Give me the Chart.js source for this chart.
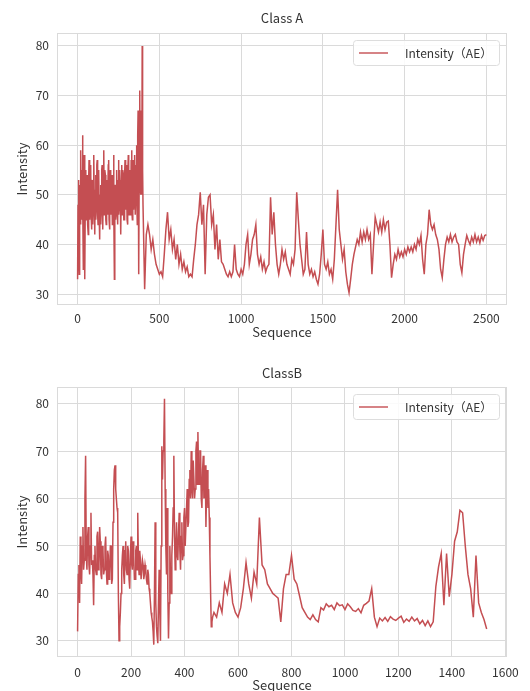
<!DOCTYPE html>
<html><head><meta charset="utf-8">
<script src="https://cdn.jsdelivr.net/npm/chart.js@4.4.0/dist/chart.umd.min.js"></script>
<style>
html,body{margin:0;padding:0;background:#fff;overflow:hidden;width:530px;height:691px;}
#wrapA{position:absolute;left:0;top:0;width:530px;height:345px;}
#wrapB{position:absolute;left:0;top:345px;width:530px;height:350px;}
</style></head><body>
<div id="wrapA"><canvas id="cA"></canvas></div>
<div id="wrapB"><canvas id="cB"></canvas></div>
<script>
// ---------------- DATA ----------------
const seriesLabel = 'Intensity（AE）';
const titleA = 'Class A';
const titleB = 'ClassB';
const xTitle = 'Sequence';
const yTitle = 'Intensity';

// Class A: sequence 0..400 every 2.5
const classA_seqStart1 = 0, classA_seqStep1 = 2.5;
const classA_values1 = [
 33,48,53,40,34,52,50,44,59,47,
 45,55,62,48,35,52,58,46,33,51,
 55,45,46,54,52,44,42,53,57,48,
 45,55,56,46,43,52,53,44,47,55,
 58,47,42,51,54,45,48,56,57,46,
 44,53,55,45,41,50,52,44,47,55,
 56,47,43,52,59,46,46,55,54,45,
 44,53,52,46,48,56,57,45,43,52,
 55,46,47,54,53,44,45,54,58,47,
 33,50,52,45,46,55,55,47,44,53,
 57,46,48,55,53,45,42,52,56,46,
 47,55,54,45,45,54,57,47,49,56,
 52,45,44,53,58,47,46,54,55,46,
 48,57,59,47,45,54,57,47,50,57,
 58,46,46,56,60,50,44,62,67,48,
 34,60,71,52,50,67,66,50,80,55,
 48];
// Class A: sequence 410..2500 every 10
const classA_seqStart2 = 410, classA_seqStep2 = 10;
const classA_values2 = [
 31,42,44,42,39,41,38,36,35,34,
 34.5,33.5,38,43,46.5,41,43,39,41,37,
 40,36,38,35,36.5,34.5,35.5,33.5,34,33.5,
 37,40,44,46,50.5,44,48,34,46,49.5,
 50,44,46,39,44,37,41,36.5,36,35,
 34,33.5,34.5,33.5,34.5,40,35,34,33.5,35,
 34,36,40,42,36,38,41,42,44,38,
 36,37.5,35,36.5,34.5,35.5,36,49.5,42,46.5,
 40,36,34,36,39,37,38.5,36,35,34,
 37,36,39,50.5,45,40,37,34,35,42.5,
 36,34,35,33.5,34.5,33,32,34,38,43,
 36,35,36.5,34,35,33,37,44,51,43,
 40,37,39,34.5,32,30.3,33,36,38,39.5,
 41,40,42.5,40.5,42.5,41,43,41,42,34,
 40,45.5,44,42.5,44.5,42.5,45,43,44.5,44.7,
 40,33.3,36,38,37,39,37.5,38.5,37.5,39,
 38,39.5,38.5,39.5,38.5,40,39,41,40,41.8,
 37,34,40,42,47,44,43,44,42,41,
 39,35,33.3,37,40,41.5,40.5,42,40.5,41.5,
 42,40.5,40,36,34.3,38,40,41.8,40.8,40,
 41.5,40.5,42,40.5,41.5,40.3,41.8,40.8,41.8,42];

// Class B: sequence 0..505 every 2.5
const classB_seqStart1 = 0, classB_seqStep1 = 2.5;
const classB_values1 = [
 32,44,46,38,52,45,42,50,54,45,
 47,60,69,48,45,52,54,46,44,50,
 57,46,47,44,37.5,48,50,45,44,52,
 53,45,46,54,51,44,43,50,49,44,
 45,50,52,45,42,49,48,43,44,50,
 50,42,43,55,62,66,67,62,60,58,
 57,40,30,33,36,40,45,48,50,44,
 42,49,51,45,44,50,49,43,41,48,
 52,46,45,51,48,43,43,49,50,45,
 57,47,44,49,47,43,43,47,46,43,
 44,46,45,43,42,45,44,41,40,38,
 36,35,34,32,29.2,40,55,38,33,31,
 29.5,38,45,36,30,50,71,64,70,72,
 81,62,50,44,58,40,30.5,38,50,44,
 40,48,52,58,69,52,45,50,55,48,
 47,53,57,49,45,52,55,47,48,56,
 58,50,50,58,62,54,55,64,66,60,
 70,62,60,68,68,60,62,70,72,63,
 74,65,63,70,70,60,58,66,69,60,
 61,67,54,62,66,58,62,56,48,40,
 33,34,35];
// Class B: sequence 510..1530 every 10
const classB_seqStart2 = 510, classB_seqStep2 = 10;
const classB_values2 = [
 36,35,38,36,42,40,44,38,36,35,
 37,41,46.5,42,39,44.5,42,56,46,45,
 42,41,40,39.5,39,34,41,44,44,48,
 43,42,39.5,37,36,35,34.5,35.5,34.5,34,
 37,36.5,37.8,37.2,37.5,36.6,38,37.4,37.6,36.6,
 37.8,37.2,36.4,36.2,36.8,35.9,37.5,37.9,38.4,41,
 35,33,34.8,34.2,34.9,34.1,35.1,34.6,34.3,34.8,
 35.2,33.9,34.6,34.1,35,34.2,34.7,33.6,34.3,33.2,
 34.2,33,34,41.5,45.6,48.4,37.5,48.4,39.3,44,
 51,53,57.5,57,50,44,41,35,48,38,
 36,34.5,32.5];

const xTicksA = [0, 500, 1000, 1500, 2000, 2500];
const xTicksB = [0, 200, 400, 600, 800, 1000, 1200, 1400, 1600];
const yTicksA = [30, 40, 50, 60, 70, 80];
const yTicksB = [30, 40, 50, 60, 70, 80];

// ---------------- BUILD ----------------
function toPoints(start, step, vals) {
  return vals.map((v, i) => ({x: start + i * step, y: v}));
}
const pointsA = toPoints(classA_seqStart1, classA_seqStep1, classA_values1)
  .concat(toPoints(classA_seqStart2, classA_seqStep2, classA_values2));
const pointsB = toPoints(classB_seqStart1, classB_seqStep1, classB_values1)
  .concat(toPoints(classB_seqStart2, classB_seqStep2, classB_values2));

const FONT = '"Noto Sans CJK SC", "Open Sans", sans-serif';
const TEXT = '#333333';
const GRID = '#dadada';
const LINE = '#c44e52';

const framePlugin = {
  id: 'frameLegend',
  beforeDatasetsDraw(chart) {
    const {ctx, chartArea: a} = chart;
    ctx.save();
    ctx.strokeStyle = GRID; ctx.lineWidth = 1;
    ctx.strokeRect(Math.round(a.left) + 0.5, Math.round(a.top) + 0.5,
                   Math.round(a.width) - 1, Math.round(a.height) - 1);
    ctx.restore();
  },
  afterDraw(chart) {
    const {ctx, chartArea: a} = chart;
    const ds = chart.data.datasets[0];
    ctx.save();
    ctx.font = '12px ' + FONT;
    const tw = ctx.measureText(ds.label).width;
    const w = 6 + 29 + 17 + tw + 7, h = 25;
    const x0 = Math.round(a.right - 8 - w), y0 = Math.round(a.top + 7);
    ctx.beginPath();
    ctx.roundRect(x0 + 0.5, y0 + 0.5, Math.round(w), h, 3);
    ctx.fillStyle = 'rgba(255,255,255,0.85)';
    ctx.fill();
    ctx.strokeStyle = '#dddddd'; ctx.lineWidth = 1; ctx.stroke();
    ctx.beginPath();
    ctx.moveTo(x0 + 6, y0 + h / 2 + 0.5); ctx.lineTo(x0 + 35, y0 + h / 2 + 0.5);
    ctx.strokeStyle = ds.borderColor; ctx.lineWidth = 1.4; ctx.stroke();
    ctx.fillStyle = TEXT; ctx.textAlign = 'left'; ctx.textBaseline = 'middle';
    ctx.fillText(ds.label, x0 + 52, y0 + h / 2 + 1);
    ctx.restore();
  }
};

function makeChart(id, title, points, xTicks, yTicks, xr, yr, L) {
  return new Chart(document.getElementById(id), {
    type: 'line',
    data: { datasets: [{
      label: seriesLabel, data: points, borderColor: LINE, backgroundColor: LINE,
      borderWidth: 1.5, pointRadius: 0, tension: 0, fill: false
    }]},
    plugins: [framePlugin],
    options: {
      responsive: true, maintainAspectRatio: false, animation: false,
      events: [],
      layout: { padding: { left: 0, right: 23, top: 0, bottom: 0 } },
      plugins: {
        legend: { display: false },
        tooltip: { enabled: false },
        title: { display: true, text: title, fullSize: false, color: TEXT,
                 font: { family: FONT, size: 13, weight: 'normal' },
                 padding: { top: L.tTop, bottom: L.tBottom } }
      },
      scales: {
        x: {
          type: 'linear', min: xr[0], max: xr[1],
          afterBuildTicks: s => { s.ticks = xTicks.map(v => ({value: v})); },
          afterFit: s => { s.height = L.xH; },
          grid: { color: GRID, lineWidth: 1, drawTicks: false },
          border: { display: false },
          ticks: { color: TEXT, font: { family: FONT, size: 12 }, padding: L.xTickPad,
                   autoSkip: false, maxRotation: 0, callback: v => String(v) },
          title: { display: true, text: xTitle, color: TEXT,
                   font: { family: FONT, size: 13 }, padding: { top: 0, bottom: L.xTitlePad } }
        },
        y: {
          type: 'linear', min: yr[0], max: yr[1],
          afterBuildTicks: s => { s.ticks = yTicks.map(v => ({value: v})); },
          afterFit: s => { s.width = 57; },
          grid: { color: GRID, lineWidth: 1, drawTicks: false },
          border: { display: false },
          ticks: { color: TEXT, font: { family: FONT, size: 12 }, padding: 8,
                   callback: v => String(v) },
          title: { display: true, text: yTitle, color: TEXT,
                   font: { family: FONT, size: 13 }, padding: { top: 14, bottom: 0 } }
        }
      }
    }
  });
}

makeChart('cA', titleA, pointsA, xTicksA, yTicksA, [-126, 2626], [27.8, 82.6],
  { tTop: 10.2, tBottom: 7.2, xH: 40, xTickPad: 6, xTitlePad: 5.2 });
makeChart('cB', titleB, pointsB, xTicksB, yTicksB, [-77, 1606], [26.6, 83.5],
  { tTop: 20.2, tBottom: 6.2, xH: 38, xTickPad: 8, xTitlePad: 2.2 });
</script>
</body></html>
